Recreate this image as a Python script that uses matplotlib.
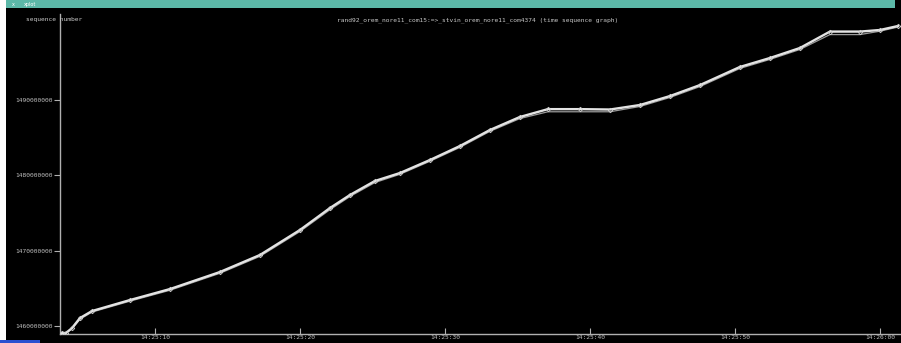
import matplotlib
matplotlib.use("Agg")
import matplotlib.pyplot as plt
from matplotlib.patches import Rectangle

# Time in seconds after 14:25:00; sequence numbers relative to SEQ_BASE
SEQ_BASE = 1460000000
seq_t = [3.59, 3.86, 4.28, 4.83, 5.66, 8.28, 11.04, 14.48, 17.24, 20.00, 22.07,
         23.45, 25.17, 26.90, 28.97, 31.03, 33.10, 35.17, 37.10, 39.31, 41.38,
         43.45, 45.52, 47.59, 50.34, 52.41, 54.48, 56.55, 58.62, 60.00, 61.24]
seq_v = [-0.93e6, -0.93e6, -0.27e6, 1.06e6, 1.99e6, 3.45e6, 4.91e6, 7.17e6,
         9.43e6, 12.75e6, 15.67e6, 17.40e6, 19.26e6, 20.32e6, 22.05e6, 23.90e6,
         26.03e6, 27.76e6, 28.80e6, 28.80e6, 28.75e6, 29.35e6, 30.54e6, 32.00e6,
         34.40e6, 35.59e6, 36.92e6, 39.10e6, 39.10e6, 39.31e6, 39.84e6]
ack_v = [-0.93e6, -0.93e6, -0.40e6, 0.90e6, 1.85e6, 3.30e6, 4.75e6, 7.00e6,
         9.25e6, 12.55e6, 15.45e6, 17.20e6, 19.05e6, 20.15e6, 21.88e6, 23.72e6,
         25.85e6, 27.55e6, 28.45e6, 28.45e6, 28.45e6, 29.15e6, 30.35e6, 31.80e6,
         34.20e6, 35.40e6, 36.72e6, 38.70e6, 38.70e6, 39.15e6, 39.70e6]

x_ticks = [10, 20, 30, 40, 50, 60]
x_labels = ["14:25:10", "14:25:20", "14:25:30", "14:25:40", "14:25:50", "14:26:00"]
y_ticks = [0, 10e6, 20e6, 30e6]
y_labels = ["1460000000", "1470000000", "1480000000", "1490000000"]

title = "rand92_orem_nore11_com15:=>_stvin_orem_nore11_com4374 (time sequence graph)"

W, H = 901, 343
fig = plt.figure(figsize=(W / 100, H / 100), dpi=100, facecolor="black")

# window frame: title bar, left border, bottom strip
fig.patches.append(Rectangle((6 / W, 1 - 8 / H), 889 / W, 8 / H, transform=fig.transFigure,
                             facecolor="#5cb8a8", edgecolor="none"))
fig.patches.append(Rectangle((0, 0), 6 / W, 1, transform=fig.transFigure,
                             facecolor="white", edgecolor="none"))
fig.patches.append(Rectangle((0, 0), 40 / W, 3 / H, transform=fig.transFigure,
                             facecolor="#2a4fd0", edgecolor="none"))
fig.text(12 / W, 1 - 4.5 / H, "x", color="white", fontsize=3.5, va="center")
fig.text(24 / W, 1 - 4.5 / H, "xplot", color="white", fontsize=3.5, va="center")

ax = fig.add_axes([60 / W, (H - 334) / H, 840 / W, (334 - 14) / H])
ax.set_facecolor("black")

px_per_s = 14.5
ax.set_xlim(3.45, 3.45 + 840 / px_per_s)
ppu = 75.3 / 10e6
ax.set_ylim(-8 / ppu, (326 - 14) / ppu)

ax.plot(seq_t, ack_v, color="#9a9a9a", lw=0.9, zorder=2)
ax.plot(seq_t, seq_v, color="#e4e4e4", lw=1.7, zorder=3,
        marker="D", markersize=2.3, markerfacecolor="none",
        markeredgecolor="#cfcfcf", markeredgewidth=0.6)

for s in ["top", "right"]:
    ax.spines[s].set_visible(False)
for s in ["left", "bottom"]:
    ax.spines[s].set_color("#b0b0b0")
    ax.spines[s].set_linewidth(1.0)

mono = "DejaVu Sans Mono"
ax.set_xticks(x_ticks)
ax.set_xticklabels(x_labels, family=mono, fontsize=4.5, color="#bdbdbd")
ax.set_yticks(y_ticks)
ax.set_yticklabels(y_labels, family=mono, fontsize=4.5, color="#bdbdbd")
ax.tick_params(axis="both", colors="#b0b0b0", length=4, width=0.8)
ax.tick_params(axis="x", direction="in", pad=1, labelcolor="#bdbdbd")
ax.tick_params(axis="y", pad=1, labelcolor="#bdbdbd")

fig.text(26 / W, 1 - 20 / H, "sequence number", family=mono, fontsize=4.5,
         color="#c8c8c8", va="center")
fig.text(478 / W, 1 - 20 / H, title, family=mono, fontsize=4.5,
         color="#c8c8c8", va="center", ha="center")

fig.savefig("out.png", dpi=100, facecolor="black")
